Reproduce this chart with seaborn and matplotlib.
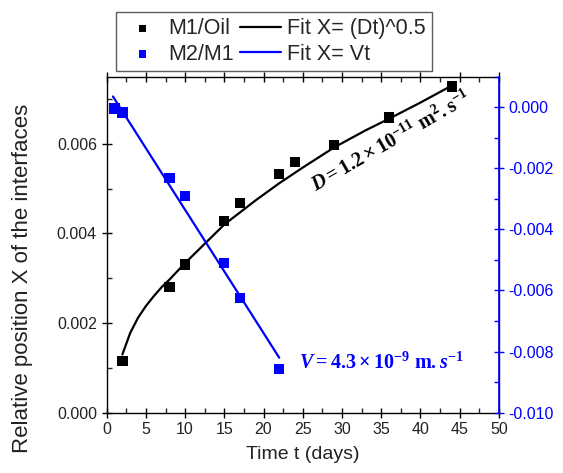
import matplotlib
matplotlib.use('Agg')
import matplotlib.pyplot as plt
from matplotlib.ticker import MultipleLocator
import numpy as np
import pandas as pd
import seaborn as sns

# M1/Oil interface (left axis)
t_oil = [2, 8, 10, 15, 17, 22, 24, 29, 36, 44]
x_oil = [0.00115, 0.00281, 0.00331, 0.00428, 0.00468,
         0.00533, 0.00559, 0.00598, 0.00659, 0.00728]

# fit X = (Dt)^0.5
t_fit1 = [2, 3, 4, 5, 6, 7, 8, 10, 12.5, 15, 19, 22, 25, 29, 33, 36, 40, 44]
x_fit1 = [0.00130, 0.00178, 0.00212, 0.00238, 0.00260, 0.00280, 0.00297,
          0.00334, 0.00377, 0.00420, 0.00474, 0.00512, 0.00547, 0.00592,
          0.00630, 0.00656, 0.00692, 0.00730]

# M2/M1 interface (right axis)
t_m2 = [1, 2, 8, 10, 15, 17, 22]
x_m2 = [-0.00004, -0.00017, -0.00232, -0.00290, -0.00509, -0.00624, -0.00858]

# fit X = Vt, end points of the drawn line
t_fit2 = [0.8, 22]
x_fit2 = [0.00035, -0.0082]

blue = '#0000ff'

sns.set_theme(style='ticks')
plt.rcParams['font.family'] = ['Liberation Sans', 'DejaVu Sans']
# bold serif maths for the two annotations
plt.rcParams['mathtext.fontset'] = 'custom'
plt.rcParams['mathtext.rm'] = 'Liberation Serif:bold'
plt.rcParams['mathtext.it'] = 'Liberation Serif:bold:italic'
plt.rcParams['mathtext.bf'] = 'Liberation Serif:bold'
plt.rcParams['mathtext.fallback'] = 'stix'

fig = plt.figure(figsize=(5.63, 4.73), dpi=100)
ax = fig.add_axes([0.1895, 0.1275, 0.6965, 0.7105])
ax2 = ax.twinx()

df_oil = pd.DataFrame({'t': t_oil, 'x': x_oil})
df_fit1 = pd.DataFrame({'t': t_fit1, 'x': x_fit1})
df_m2 = pd.DataFrame({'t': t_m2, 'x': x_m2})
df_fit2 = pd.DataFrame({'t': t_fit2, 'x': x_fit2})

sns.lineplot(data=df_fit1, x='t', y='x', ax=ax, color='black', lw=1.6,
             sort=False, estimator=None, label='Fit X= (Dt)^0.5', legend=False)
sns.scatterplot(data=df_oil, x='t', y='x', ax=ax, color='black', marker='s',
                s=55, edgecolor='none', label='M1/Oil', legend=False, zorder=3)
sns.lineplot(data=df_fit2, x='t', y='x', ax=ax2, color=blue, lw=1.6,
             sort=False, estimator=None, label='Fit X= Vt', legend=False)
sns.scatterplot(data=df_m2, x='t', y='x', ax=ax2, color=blue, marker='s',
                s=55, edgecolor='none', label='M2/M1', legend=False, zorder=3)

ax.set_xlim(0, 50)
ax.set_ylim(0, 0.0075)
ax2.set_ylim(-0.010, 0.001)

ax.xaxis.set_major_locator(MultipleLocator(5))
ax.xaxis.set_minor_locator(MultipleLocator(2.5))
ax.yaxis.set_major_locator(MultipleLocator(0.002))
ax.yaxis.set_minor_locator(MultipleLocator(0.001))
ax2.yaxis.set_major_locator(MultipleLocator(0.002))
ax2.yaxis.set_minor_locator(MultipleLocator(0.001))
ax.yaxis.set_major_formatter(lambda v, p: '{:.3f}'.format(v))
ax2.yaxis.set_major_formatter(lambda v, p: '{:.3f}'.format(v).replace('-0.000', '0.000'))

ax.tick_params(which='major', direction='inout', length=7, width=1,
               labelsize=11.5, color='black', labelcolor='#222222')
ax.tick_params(which='minor', direction='in', length=3.5, width=1)
ax.tick_params(axis='x', which='both', top=True, labeltop=False)
ax2.tick_params(axis='y', which='major', direction='inout', length=7, width=1,
                labelsize=11.5, color=blue, labelcolor=blue)
ax2.tick_params(axis='y', which='minor', direction='in', length=3.5, width=1,
                color=blue)

for sp in ax.spines.values():
    sp.set_color('black')
    sp.set_linewidth(1)
ax2.spines['right'].set_color(blue)
ax2.spines['right'].set_linewidth(1.2)
ax2.spines['left'].set_visible(False)
ax2.spines['top'].set_visible(False)
ax2.spines['bottom'].set_visible(False)

ax.set_xlabel('Time t (days)', fontsize=14, color='#222222', labelpad=6)
ax.set_ylabel('Relative position X of the interfaces', fontsize=16,
              color='#222222')
ax.yaxis.set_label_coords(-0.188, 0.40)
ax2.set_ylabel('')
ax2.set_xlabel('')

ax.text(36.2, 0.00605, r'$D = 1.2\times10^{-11}\ \mathrm{m}^{2}.\mathrm{s}^{-1}$',
        fontsize=14.5, rotation=30, ha='center', va='center',
        rotation_mode='anchor', color='black')
ax.text(24.5, 0.00113, r'$V = 4.3\times10^{-9}\ \mathrm{m}.s^{-1}$',
        fontsize=14.5, ha='left', va='center', color=blue)

h1, l1 = ax.get_legend_handles_labels()
h2, l2 = ax2.get_legend_handles_labels()
hd = dict(zip(l1 + l2, h1 + h2))
order = ['M1/Oil', 'M2/M1', 'Fit X= (Dt)^0.5', 'Fit X= Vt']
leg = fig.legend([hd[k] for k in order], order, loc='upper center',
                 bbox_to_anchor=(0.486, 0.975), ncol=2, fontsize=15.5,
                 frameon=True, fancybox=False, edgecolor='#333333',
                 handlelength=1.9, handletextpad=0.25, columnspacing=0.3,
                 labelspacing=0.2, borderpad=0.3, borderaxespad=0,
                 markerscale=0.75)
leg.get_frame().set_linewidth(1)

fig.savefig('out.png', dpi=100)
